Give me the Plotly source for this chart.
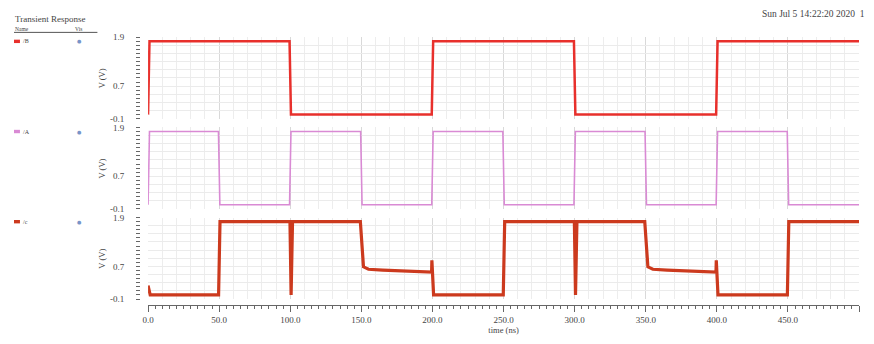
import plotly.graph_objects as go

# ---- data ----
names = ["/B", "/A", "/c"]
colors = ["#e8302c", "#d98ad4", "#cc3a1e"]
widths = [2.5, 1.6, 3.2]

b_t = [0, 1, 99.5, 100.5, 199.5, 200.5, 299.5, 300.5, 399.5, 400.5, 500]
b_v = [0.0, 1.8, 1.8, 0.0, 0.0, 1.8, 1.8, 0.0, 0.0, 1.8, 1.8]

a_t = [0, 1, 49.5, 50.5, 99.5, 100.5, 149.5, 150.5, 199.5, 200.5, 249.5, 250.5,
       299.5, 300.5, 349.5, 350.5, 399.5, 400.5, 449.5, 450.5, 500]
a_v = [0.0, 1.8, 1.8, 0.0, 0.0, 1.8, 1.8, 0.0, 0.0, 1.8, 1.8, 0.0,
       0.0, 1.8, 1.8, 0.0, 0.0, 1.8, 1.8, 0.0, 0.0]

c_t = [0, 1.5, 49.6, 50.6, 99.8, 100.6, 101.6, 149.3, 151.5, 155, 165, 199.4, 199.6, 200.8,
       249.8, 250.8, 299.8, 300.6, 301.6, 349.3, 351.5, 355, 365, 399.4, 399.6, 400.8,
       449.6, 450.6, 500]
c_v = [0.23, 0.0, 0.0, 1.8, 1.8, 0.0, 1.8, 1.8, 0.69, 0.63, 0.61, 0.56, 0.85, 0.0,
       0.0, 1.8, 1.8, 0.0, 1.8, 1.8, 0.69, 0.63, 0.61, 0.56, 0.85, 0.0,
       0.0, 1.8, 1.8]

series_t = [b_t, a_t, c_t]
series_v = [b_v, a_v, c_v]

y_tickvals = [-0.1, 0.7, 1.9]
y_ticktext = ["-0.1", "0.7", "1.9"]
x_tickvals = [0, 50, 100, 150, 200, 250, 300, 350, 400, 450, 500]
x_ticktext = ["0.0", "50.0", "100.0", "150.0", "200.0", "250.0", "300.0",
              "350.0", "400.0", "450.0", "500.0"]

title_text = "Transient Response"
date_text = "Sun Jul 5 14:22:20 2020  1"
x_title = "time (ns)"
y_title = "V (V)"

# ---- layout geometry (page pixels; the page body keeps its 8px margin) ----
OFF = 8
W, H = 874 - 2 * OFF, 344 - 2 * OFF
FONT = "Liberation Serif"
def px(t):
    return min(max(t - OFF, 0), W) / W
def py(t):
    return 1 - min(max(t - OFF, 0), H) / H

panel_px = [(33, 117), (126, 210), (219, 303)]
x_left, x_right = 143, 859
yaxis_pos = px(135)
xaxis_pos = py(309)

fig = go.Figure()
layout = dict(
    width=W, height=H, margin=dict(l=0, r=0, t=0, b=0),
    paper_bgcolor="white", plot_bgcolor="white", showlegend=False,
    font=dict(family=FONT, size=9, color="#444"),
)

for k in range(3):
    i = k + 1
    top, bot = panel_px[k]
    xa = f"xaxis{i if i > 1 else ''}"
    ya = f"yaxis{i if i > 1 else ''}"
    layout[xa] = dict(
        domain=[px(x_left), px(x_right)], range=[0, 500], anchor=f"y{i}",
        showticklabels=False, ticks="", showline=False, zeroline=False,
        tickvals=x_tickvals, showgrid=True, gridcolor="#d9d9d9", gridwidth=1,
        minor=dict(dtick=10, tick0=0, showgrid=True, gridcolor="#ededed", gridwidth=1),
    )
    layout[ya] = dict(
        domain=[py(bot), py(top)], range=[-0.1, 1.9], anchor=f"x{i}",
        showticklabels=False, ticks="", showline=False, zeroline=False,
        tick0=-0.1, dtick=0.2, showgrid=True, gridcolor="#ebebeb", gridwidth=1,
    )
    layout[f"yaxis{i + 3}"] = dict(
        overlaying=f"y{i}", anchor="free", position=yaxis_pos,
        range=[-0.1, 1.9], showgrid=False, zeroline=False, showline=False,
        tickvals=y_tickvals, ticktext=y_ticktext, ticks="outside", ticklen=4,
        tickcolor="#666", tickwidth=1, ticklabelstandoff=10,
        tickfont=dict(family=FONT, size=9, color="#444"),
        minor=dict(tickmode="linear", tick0=-0.1, dtick=0.1, ticks="outside",
                   ticklen=4, tickcolor="#666", tickwidth=1, showgrid=False),
    )
    fig.add_trace(go.Scatter(
        x=series_t[k], y=series_v[k], mode="lines",
        line=dict(color=colors[k], width=widths[k]),
        xaxis=f"x{i}", yaxis=f"y{i}", hoverinfo="skip",
    ))
    fig.add_trace(go.Scatter(
        x=[0], y=[0], mode="markers", marker=dict(opacity=0),
        xaxis=f"x{i}", yaxis=f"y{i + 3}", hoverinfo="skip",
    ))
    # legend row
    fig.add_shape(type="rect", xref="paper", yref="paper",
                  x0=px(8), x1=px(14), y0=py(top + 6), y1=py(top + 2.5),
                  fillcolor=colors[k], line=dict(width=0))
    fig.add_annotation(xref="paper", yref="paper", x=px(15), y=py(top + 4.3),
                       text=names[k], showarrow=False, xanchor="left", yanchor="middle",
                       font=dict(family=FONT, size=6, color="#444"))
    fig.add_annotation(xref="paper", yref="paper", x=px(74), y=py(top + 4.3),
                       text="●", showarrow=False, xanchor="center", yanchor="middle",
                       font=dict(family="DejaVu Sans", size=5, color="#7894c8"))
    fig.add_annotation(xref="paper", yref="paper", x=px(97), y=py((top + bot) / 2),
                       text=y_title, textangle=-90, showarrow=False,
                       xanchor="center", yanchor="middle",
                       font=dict(family=FONT, size=8.5, color="#444"))

layout["xaxis4"] = dict(
    overlaying="x3", anchor="free", position=xaxis_pos, range=[0, 500],
    domain=[px(x_left), px(x_right)],
    showgrid=False, zeroline=False, showline=True, linecolor="#666", linewidth=1,
    tickvals=x_tickvals, ticktext=x_ticktext, ticks="outside", ticklen=6,
    tickcolor="#666", tickwidth=1, tickfont=dict(family=FONT, size=9, color="#444"),
    minor=dict(tickmode="linear", tick0=0, dtick=5, ticks="outside", ticklen=3,
               tickcolor="#666", tickwidth=1, showgrid=False),
    title=dict(text=x_title, font=dict(family=FONT, size=8.5, color="#444"), standoff=3),
)
fig.add_trace(go.Scatter(x=[0], y=[0], mode="markers", marker=dict(opacity=0),
                         xaxis="x4", yaxis="y3", hoverinfo="skip"))

fig.update_layout(**layout)

fig.add_annotation(xref="paper", yref="paper", x=0, y=1, text=title_text,
                   showarrow=False, xanchor="left", yanchor="top", borderpad=0,
                   font=dict(family=FONT, size=9, color="#444"))
fig.add_annotation(xref="paper", yref="paper", x=0, y=py(24), text="Name",
                   showarrow=False, xanchor="left", yanchor="middle", borderpad=0,
                   font=dict(family=FONT, size=5.5, color="#444"))
fig.add_annotation(xref="paper", yref="paper", x=px(68), y=py(24), text="Vis",
                   showarrow=False, xanchor="left", yanchor="middle", borderpad=0,
                   font=dict(family=FONT, size=5.5, color="#444"))
fig.add_shape(type="line", xref="paper", yref="paper", x0=px(8), x1=px(92),
              y0=py(28), y1=py(28), line=dict(color="#555", width=1))
fig.add_annotation(xref="paper", yref="paper", x=1, y=py(9), text=date_text,
                   showarrow=False, xanchor="right", yanchor="middle", borderpad=0,
                   font=dict(family=FONT, size=9.5, color="#444"))

fig.write_html("out.html", config={"displayModeBar": False})
